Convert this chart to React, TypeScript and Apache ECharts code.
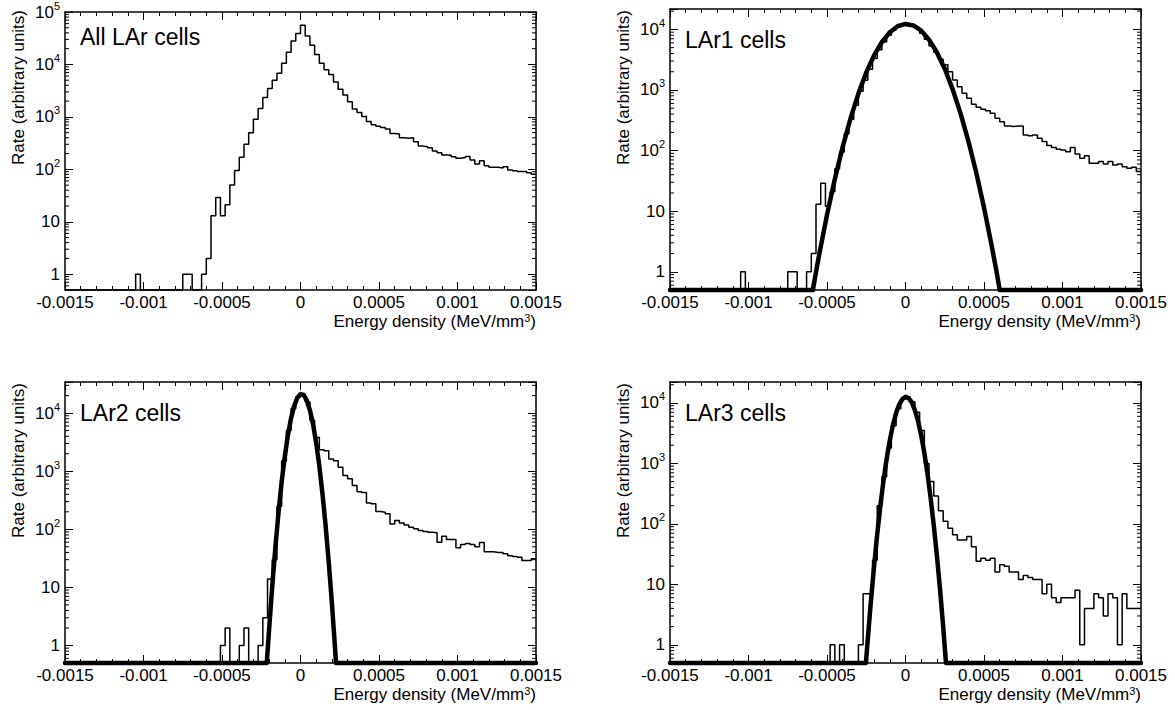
import React, { useEffect, useRef } from "react";
import * as echarts from "echarts";

// ---- axis / binning definition ----
const X_MIN = -0.0015;
const X_MAX = 0.0015;
const BIN_WIDTH = 0.00003; // 100 bins
const X_TICK_STEP = 0.0005;
const Y_MIN = 0.5;

const panelTitles = ["All LAr cells", "LAr1 cells", "LAr2 cells", "LAr3 cells"];
const panelYMax = [100000, 21700, 34300, 22200];

// ---- histogram contents ----
const allLArCounts = [
  0, 0, 0, 0, 0, 0, 0, 0, 0, 0,
  0, 0, 0, 0, 0, 1, 0, 0, 0, 0,
  0, 0, 0, 0, 0, 1, 1, 0, 0, 1,
  2, 13, 29, 13, 21, 50, 95, 170, 300, 500,
  900, 1450, 2340, 3470, 5000, 6800, 10500, 17000, 28000, 38700,
  56000, 35000, 23300, 15400, 10500, 7900, 6450, 4650, 3380, 2600,
  1950, 1420, 1210, 1020, 820, 710, 660, 630, 590, 480,
  470, 400, 390, 400, 335, 277, 270, 258, 224, 208,
  188, 185, 173, 163, 168, 176, 151, 126, 145, 117,
  109, 109, 106, 112, 97, 94, 91, 91, 86, 81,
];

const lar1Counts = [
  0, 0, 0, 0, 0, 0, 0, 0, 0, 0,
  0, 0, 0, 0, 0, 1, 0, 0, 0, 0,
  0, 0, 0, 0, 0, 1, 1, 0, 0, 1,
  2, 13, 29, 12, 21, 50, 95, 190, 330, 560,
  950, 1450, 2200, 3300, 4600, 6200, 8000, 9800, 11200, 12200,
  12500, 11800, 10400, 8600, 6900, 5300, 4200, 3200, 2600, 2000,
  1460, 1130, 880, 730, 580, 519, 481, 456, 412, 341,
  300, 255, 250, 255, 255, 181, 175, 181, 160, 141,
  121, 112, 105, 102, 96, 112, 88, 75, 82, 62,
  62, 66, 60, 66, 58, 60, 54, 51, 53, 45,
];

const lar2Counts = [
  0, 0, 0, 0, 0, 0, 0, 0, 0, 0,
  0, 0, 0, 0, 0, 0, 0, 0, 0, 0,
  0, 0, 0, 0, 0, 0, 0, 0, 0, 0,
  0, 0, 0, 1, 2, 0, 0, 1, 2, 0,
  0, 1, 3, 14, 30, 250, 1500, 5000, 12000, 19000,
  21000, 15500, 7500, 3800, 2340, 2250, 1620, 1520, 1170, 840,
  740, 565, 445, 430, 285, 275, 202, 197, 185, 124,
  142, 128, 119, 109, 102, 95, 92, 89, 87, 60,
  76, 67, 67, 48, 55, 57, 55, 50, 59, 41,
  41, 40, 40, 38, 35, 34, 33, 29, 29, 31,
];

const lar3Counts = [
  0, 0, 0, 0, 0, 0, 0, 0, 0, 0,
  0, 0, 0, 0, 0, 0, 0, 0, 0, 0,
  0, 0, 0, 0, 0, 0, 0, 0, 0, 0,
  0, 0, 0, 0, 1, 0, 1, 0, 0, 0,
  1, 7, 7, 25, 200, 600, 1800, 4200, 8000, 11500,
  12500, 10500, 7000, 3500, 1000, 500, 290, 165, 110, 85,
  66, 54, 54, 62, 42, 24, 27, 25, 27, 16,
  21, 20, 16, 16, 12, 14, 13, 12, 12, 7,
  10, 6, 5, 6, 6, 6, 8, 1, 4, 4,
  7, 6, 3, 7, 6, 1, 7, 4, 4, 4,
];

// ---- fitted curves, points ----
const lar1Fit = [
  [-0.0015, 0.5], [-0.00059, 0.5], [-0.00057, 1.0], [-0.00055, 1.9], [-0.0005, 8.7],
  [-0.00045, 34], [-0.0004, 115], [-0.00035, 340], [-0.0003, 870], [-0.00025, 1940],
  [-0.0002, 3730], [-0.00015, 6200], [-0.0001, 8960], [-0.00005, 11300], [0, 12300],
  [0.00005, 11600], [0.0001, 9550], [0.00015, 6760], [0.0002, 4170], [0.00025, 2240],
  [0.0003, 1035], [0.00035, 415], [0.0004, 145], [0.00045, 44], [0.0005, 11.5],
  [0.00055, 2.6], [0.00058, 1.0], [0.0006, 0.5], [0.0015, 0.5],
];

const lar2Fit = [
  [-0.0015, 0.5], [-0.000215, 0.5], [-0.0002, 1.9], [-0.00018, 10.5], [-0.00016, 49],
  [-0.00014, 196], [-0.00012, 650], [-0.0001, 1800], [-0.00008, 4200], [-0.00006, 8200],
  [-0.00004, 13400], [-0.00002, 18400], [0, 21200], [0.00002, 20500], [0.00004, 16500],
  [0.00006, 11200], [0.00008, 6400], [0.0001, 3050], [0.00012, 1230], [0.00014, 410],
  [0.00016, 115], [0.00018, 27], [0.0002, 5.4], [0.00022, 0.9], [0.000226, 0.5], [0.0015, 0.5],
];

const lar3Fit = [
  [-0.0015, 0.5], [-0.000252, 0.5], [-0.00024, 1.26], [-0.00022, 5.4], [-0.0002, 20],
  [-0.00018, 68], [-0.00016, 200], [-0.00014, 520], [-0.00012, 1190], [-0.0001, 2400],
  [-0.00008, 4300], [-0.00006, 6800], [-0.00004, 9450], [-0.00002, 11600], [0, 12600],
  [0.00002, 12000], [0.00004, 10200], [0.00006, 7600], [0.00008, 5000], [0.0001, 2900],
  [0.00012, 1490], [0.00014, 675], [0.00016, 270], [0.00018, 95], [0.0002, 30],
  [0.00022, 8.2], [0.00024, 2.0], [0.000258, 0.5], [0.0015, 0.5],
];

const panelCounts = [allLArCounts, lar1Counts, lar2Counts, lar3Counts];
const panelFits: (number[][] | null)[] = [null, lar1Fit, lar2Fit, lar3Fit];

// log minor tick values (2..9 x 10^n)
const LOG_MINOR_MULTS = [2, 3, 4, 5, 6, 7, 8, 9];
const LOG_DECADES = [-1, 0, 1, 2, 3, 4, 5];

// ---- layout ----
const FONT = '"Liberation Sans", Arial, Helvetica, sans-serif';
const GRIDS = [
  { left: 65, top: 9 },
  { left: 670, top: 9 },
  { left: 65, top: 382 },
  { left: 670, top: 382 },
];
const GRID_W = 471;
const GRID_H = 281;

function fmtX(v: number) {
  if (Math.abs(v) < 1e-12) return "0";
  return String(parseFloat(v.toFixed(4)));
}

function fmtLog(v: number) {
  const l = Math.log10(v);
  const r = Math.round(l);
  if (Math.abs(l - r) > 1e-6 || r < 0) return "";
  if (r === 0) return "{b|1}";
  if (r === 1) return "{b|10}";
  return `{b|10}{s|${r}}`;
}

function buildOption() {
  const grid: any[] = [];
  const xAxis: any[] = [];
  const yAxis: any[] = [];
  const series: any[] = [];
  const graphic: any[] = [];

  const tickStyle = { color: "#000", width: 1 };
  const lineStyle = { color: "#000", width: 1.5 };

  GRIDS.forEach((g, i) => {
    const yMax = panelYMax[i];
    grid.push({ left: g.left, top: g.top, width: GRID_W, height: GRID_H, containLabel: false });

    const xBase = {
      type: "value",
      gridIndex: i,
      min: X_MIN,
      max: X_MAX,
      interval: X_TICK_STEP,
      axisLine: { show: true, onZero: false, lineStyle },
      axisTick: { show: true, inside: true, length: 8, lineStyle: tickStyle },
      minorTick: { show: true, splitNumber: 5, length: 4, lineStyle: tickStyle },
      splitLine: { show: false },
      minorSplitLine: { show: false },
    };
    xAxis.push({
      ...xBase,
      position: "bottom",
      axisLabel: {
        show: true,
        margin: 4,
        fontSize: 17,
        lineHeight: 16,
        fontFamily: FONT,
        color: "#000",
        formatter: fmtX,
      },
    });
    xAxis.push({ ...xBase, position: "top", axisLabel: { show: false } });

    const yBase = {
      type: "log",
      logBase: 10,
      gridIndex: i,
      min: Y_MIN,
      max: yMax,
      axisLine: { show: true, onZero: false, lineStyle },
      axisTick: { show: true, inside: true, length: 8, lineStyle: tickStyle },
      splitLine: { show: false },
    };
    yAxis.push({
      ...yBase,
      position: "left",
      axisLabel: {
        show: true,
        margin: 5,
        color: "#000",
        formatter: fmtLog,
        rich: {
          b: { fontSize: 17, fontFamily: FONT, color: "#000", lineHeight: 24 },
          s: { fontSize: 11, fontFamily: FONT, color: "#000", lineHeight: 12, verticalAlign: "top" },
        },
      },
    });
    yAxis.push({ ...yBase, position: "right", axisLabel: { show: false } });

    // histogram
    const counts = panelCounts[i];
    const histData: number[][] = counts.map((c, k) => [X_MIN + k * BIN_WIDTH, c > 0 ? c : Y_MIN]);
    const last = counts[counts.length - 1];
    histData.push([X_MAX, last > 0 ? last : Y_MIN]);
    series.push({
      type: "line",
      xAxisIndex: 2 * i,
      yAxisIndex: 2 * i,
      data: histData,
      step: "end",
      symbol: "none",
      showSymbol: false,
      clip: false,
      silent: true,
      z: 3,
      lineStyle: { color: "#000", width: 1.5 },
    });

    const fit = panelFits[i];
    if (fit) {
      series.push({
        type: "line",
        xAxisIndex: 2 * i,
        yAxisIndex: 2 * i,
        data: fit,
        symbol: "none",
        showSymbol: false,
        clip: false,
        silent: true,
        z: 4,
        lineStyle: { color: "#000", width: 4.5, join: "round", cap: "round" },
      });
    }

    // log minor ticks
    const minorVals: number[][] = [];
    LOG_DECADES.forEach((d) => {
      LOG_MINOR_MULTS.forEach((m) => {
        const v = m * Math.pow(10, d);
        if (v > Y_MIN * 1.0001 && v < yMax * 0.9999) minorVals.push([X_MIN, v]);
      });
    });
    series.push({
      type: "custom",
      xAxisIndex: 2 * i,
      yAxisIndex: 2 * i,
      data: minorVals,
      silent: true,
      clip: false,
      z: 5,
      renderItem: (_p: any, api: any) => {
        const v = api.value(1);
        const pl = api.coord([X_MIN, v]);
        const pr = api.coord([X_MAX, v]);
        return {
          type: "group",
          children: [
            { type: "line", shape: { x1: pl[0], y1: pl[1], x2: pl[0] + 4, y2: pl[1] }, style: { stroke: "#000", lineWidth: 1 } },
            { type: "line", shape: { x1: pr[0] - 4, y1: pr[1], x2: pr[0], y2: pr[1] }, style: { stroke: "#000", lineWidth: 1 } },
          ],
        };
      },
    });

    // texts
    const titleY = i < 2 ? (i === 0 ? 37 : 40) : 412.5;
    graphic.push({
      type: "text",
      x: g.left + 15,
      y: titleY,
      silent: true,
      style: {
        text: panelTitles[i],
        font: `23px ${FONT}`,
        fill: "#000",
        align: "left",
        verticalAlign: "middle",
      },
    });
    graphic.push({
      type: "text",
      x: g.left - 47,
      y: g.top + 1,
      rotation: Math.PI / 2,
      silent: true,
      style: {
        text: "Rate (arbitrary units)",
        font: `17px ${FONT}`,
        fill: "#000",
        align: "right",
        verticalAlign: "middle",
      },
    });
    graphic.push({
      type: "text",
      x: g.left + GRID_W,
      y: g.top + GRID_H + 31,
      silent: true,
      style: {
        text: "{a|Energy density (MeV/mm}{s|3}{a|)}",
        rich: {
          a: { fontSize: 17, fontFamily: FONT, fill: "#000", lineHeight: 17 },
          s: { fontSize: 11, fontFamily: FONT, fill: "#000", lineHeight: 11, verticalAlign: "top" },
        },
        align: "right",
        verticalAlign: "middle",
      },
    });
  });

  return {
    animation: false,
    backgroundColor: "#fff",
    grid,
    xAxis,
    yAxis,
    series,
    graphic,
  };
}

export default function App() {
  const ref = useRef<HTMLDivElement>(null);
  useEffect(() => {
    if (!ref.current) return;
    const chart = echarts.init(ref.current, null, { renderer: "svg" });
    chart.setOption(buildOption() as any);
    return () => chart.dispose();
  }, []);
  return (
    <div
      ref={ref}
      style={{ position: "fixed", left: 0, top: 0, width: 1175, height: 710, background: "#fff" }}
    />
  );
}
